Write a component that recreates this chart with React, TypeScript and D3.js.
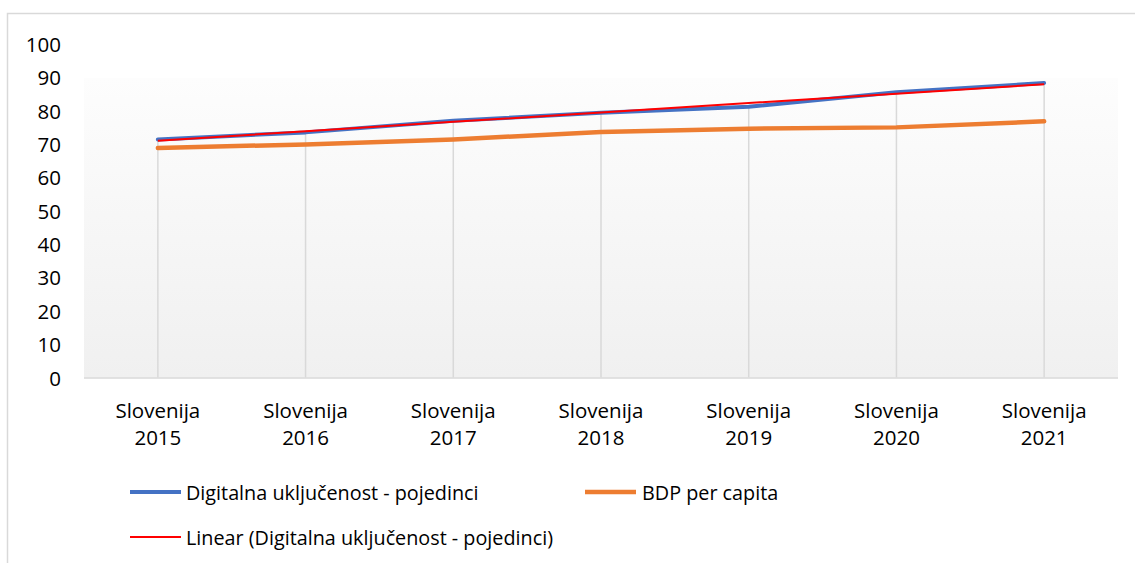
import { useMemo } from "react";
import * as d3 from "d3";

const WIDTH = 1135;
const HEIGHT = 563;
const PLOT = { left: 84, right: 1118, top: 44, bottom: 377.5 };
const FONT = "'Open Sans', 'Noto Sans', sans-serif";

const categories = ["2015", "2016", "2017", "2018", "2019", "2020", "2021"];
const digitalValues = [71.4, 73.5, 77.0, 79.4, 81.2, 85.5, 88.3];
const gdpValues = [68.8, 69.9, 71.4, 73.6, 74.6, 75.0, 76.8];
const yTicks = [0, 10, 20, 30, 40, 50, 60, 70, 80, 90, 100];

const seriesNames = {
  digital: "Digitalna uključenost - pojedinci",
  gdp: "BDP per capita",
  trend: "Linear (Digitalna uključenost - pojedinci)",
};

// least squares fit, like Excel's linear trendline
const linearFit = (values: number[]) => {
  const mx = d3.mean(values, (_, i) => i) as number;
  const my = d3.mean(values) as number;
  let num = 0;
  let den = 0;
  values.forEach((v, i) => {
    num += (i - mx) * (v - my);
    den += (i - mx) * (i - mx);
  });
  const slope = num / den;
  const intercept = my - slope * mx;
  return values.map((_, i) => intercept + slope * i);
};

export default function App() {
  const xScale = useMemo(
    () => d3.scaleBand().domain(categories).range([PLOT.left, PLOT.right]),
    []
  );
  const yScale = useMemo(
    () => d3.scaleLinear().domain([0, 100]).range([PLOT.bottom, PLOT.top]),
    []
  );
  const cx = (c: string) => (xScale(c) as number) + xScale.bandwidth() / 2;

  const trendValues = linearFit(digitalValues);

  const line = d3
    .line<number>()
    .x((_, i) => cx(categories[i]))
    .y((d) => yScale(d));

  return (
    <svg
      width={WIDTH}
      height={HEIGHT}
      style={{ position: "fixed", left: 0, top: 0, background: "#fff" }}
      fontFamily={FONT}
    >
      <defs>
        <linearGradient id="plotBg" x1="0" y1="0" x2="0" y2="1">
          <stop offset="0%" stopColor="#fdfdfd" />
          <stop offset="100%" stopColor="#f0f0f0" />
        </linearGradient>
      </defs>

      {/* chart border, cut by the screenshot on the right and bottom */}
      <path d={`M7.5,${HEIGHT} V13.5 H${WIDTH}`} fill="none" stroke="#d9d9d9" strokeWidth={1.5} />

      {/* plot area */}
      <rect
        x={PLOT.left}
        y={78}
        width={PLOT.right - PLOT.left}
        height={PLOT.bottom - 78}
        fill="url(#plotBg)"
      />

      {/* drop lines */}
      {categories.map((c, i) => (
        <line
          key={c}
          x1={cx(c)}
          x2={cx(c)}
          y1={yScale(Math.max(digitalValues[i], gdpValues[i]))}
          y2={PLOT.bottom}
          stroke="#d9d9d9"
          strokeWidth={1.5}
        />
      ))}

      {/* x axis line */}
      <line
        x1={PLOT.left}
        x2={PLOT.right}
        y1={PLOT.bottom + 0.5}
        y2={PLOT.bottom + 0.5}
        stroke="#d9d9d9"
        strokeWidth={1.5}
      />

      {/* y tick labels */}
      {yTicks.map((t) => (
        <text
          key={t}
          x={61}
          y={yScale(t)}
          textAnchor="end"
          dominantBaseline="central"
          fontSize={20.5}
          fill="#000"
        >
          {t}
        </text>
      ))}

      {/* x tick labels */}
      {categories.map((c) => (
        <text key={c} x={cx(c)} textAnchor="middle" fontSize={20.5} fill="#000">
          <tspan x={cx(c)} y={418}>Slovenija</tspan>
          <tspan x={cx(c)} y={445}>{c}</tspan>
        </text>
      ))}

      {/* series */}
      <path d={line(gdpValues) ?? ""} fill="none" stroke="#ED7D31" strokeWidth={4.5} strokeLinejoin="round" strokeLinecap="round" />
      <path d={line(digitalValues) ?? ""} fill="none" stroke="#4472C4" strokeWidth={4} strokeLinejoin="round" strokeLinecap="round" />
      <path d={line(trendValues) ?? ""} fill="none" stroke="#FF0000" strokeWidth={2} />

      {/* legend */}
      <g fontSize={19.8} fill="#000">
        <line x1={130} x2={181} y1={492} y2={492} stroke="#4472C4" strokeWidth={4} />
        <text x={186} y={492} dominantBaseline="central">{seriesNames.digital}</text>
        <line x1={585} x2={636} y1={492} y2={492} stroke="#ED7D31" strokeWidth={4.5} />
        <text x={642} y={492} dominantBaseline="central">{seriesNames.gdp}</text>
        <line x1={130} x2={181} y1={537} y2={537} stroke="#FF0000" strokeWidth={2} />
        <text x={186} y={537} dominantBaseline="central">{seriesNames.trend}</text>
      </g>
    </svg>
  );
}
